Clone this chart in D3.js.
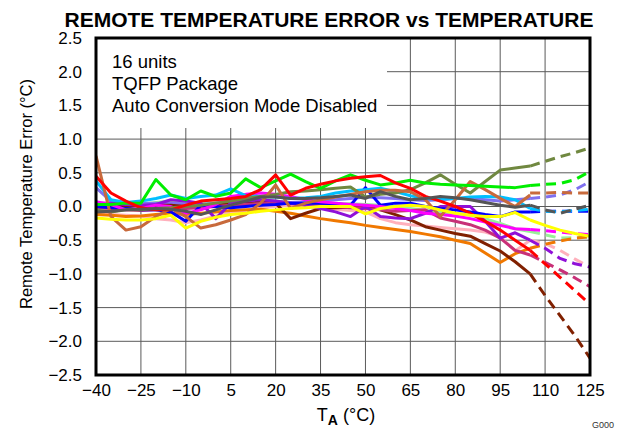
<!DOCTYPE html>
<html><head><meta charset="utf-8">
<script src="https://cdn.jsdelivr.net/npm/d3@7"></script>
<style>body{margin:0;background:#fff}svg{display:block;font-family:"Liberation Sans",Arial,sans-serif}</style>
</head><body><svg id="c" width="618" height="432"></svg>
<script>
// Measured temperatures (solid) and extrapolated temperatures (dashed)
const temps = [-40,-35,-30,-25,-20,-15,-10,-5,0,5,10,15,20,25,30,35,40,45,50,55,60,65,70,75,80,85,90,95,100,105];
const extTemps = [105,110,115,120,125];
const xTicks = [-40,-25,-10,5,20,35,50,65,80,95,110,125];
const yTicks = [-2.5,-2.0,-1.5,-1.0,-0.5,0,0.5,1.0,1.5,2.0,2.5];
const noteLines = ["16 units","TQFP Package","Auto Conversion Mode Disabled"];

const lightPink = [-0.1,-0.12,-0.13,-0.14,-0.18,-0.2,-0.24,-0.2,-0.14,-0.1,-0.06,-0.02,0.0,0.02,0.0,-0.02,-0.04,-0.06,-0.08,-0.18,-0.24,-0.27,-0.29,-0.31,-0.33,-0.35,-0.38,-0.45,-0.66,-0.5];
const lightPinkExt = [-0.5,-0.55,-0.65,-0.78,-0.9];
const lightGreen = [0.05,0.03,0.02,0.03,0.06,0.08,0.05,0.05,0.06,0.08,0.1,0.1,0.08,0.06,0.05,0.05,0.04,0.04,0.03,0.02,0.0,-0.03,-0.06,-0.08,-0.1,-0.13,-0.18,-0.25,-0.33,-0.37];
const lightGreenExt = [-0.37,-0.42,-0.47,-0.46,-0.45];
const slateBlue = [0.28,0.08,0.05,0.05,0.05,0.05,0.04,0.03,0.05,0.07,0.08,0.08,0.07,0.06,0.07,0.08,0.1,0.12,0.14,0.13,0.12,0.1,0.09,0.1,0.12,0.12,0.1,0.08,0.1,0.12];
const slateBlueExt = [0.12,0.14,0.17,0.25,0.37];
const orange = [-0.12,-0.13,-0.15,-0.14,-0.12,-0.1,-0.12,-0.1,-0.08,-0.06,-0.05,-0.04,-0.07,-0.1,-0.14,-0.18,-0.21,-0.24,-0.28,-0.31,-0.34,-0.37,-0.41,-0.45,-0.5,-0.55,-0.69,-0.83,-0.7,-0.62];
const orangeExt = [-0.62,-0.56,-0.51,-0.47,-0.45];
const darkBrown = [0.02,0.0,0.0,0.01,0.02,0.02,0.0,0.0,0.02,0.04,0.07,0.08,0.05,-0.18,-0.1,-0.03,-0.02,-0.01,0.0,-0.05,-0.12,-0.2,-0.3,-0.35,-0.4,-0.44,-0.55,-0.66,-0.82,-1.0];
const darkBrownExt = [-1.0,-1.32,-1.62,-1.92,-2.25];
const violetRed = [-0.02,-0.03,-0.05,-0.06,-0.05,-0.04,-0.03,-0.02,0.0,0.02,0.03,0.04,0.05,0.04,0.03,0.02,0.0,-0.02,-0.03,-0.05,-0.07,-0.06,-0.05,-0.17,-0.22,-0.27,-0.35,-0.47,-0.65,-0.72];
const violetRedExt = [-0.72,-0.83,-0.94,-1.06,-1.19];
const violet = [0.05,0.05,0.03,0.02,0.03,0.1,0.08,0.05,-0.18,0.05,0.08,0.1,0.08,0.05,0.02,-0.03,-0.08,-0.15,0.0,-0.15,-0.17,-0.18,-0.1,0.0,0.0,0.0,-0.22,-0.47,-0.39,-0.5];
const violetExt = [-0.5,-0.62,-0.77,-0.85,-0.9];
const blue = [0.0,-0.02,-0.03,-0.05,-0.05,-0.08,-0.22,0.02,0.0,-0.02,0.0,0.02,0.03,0.05,0.05,0.05,0.04,0.02,0.28,0.02,0.05,0.05,0.0,-0.03,-0.05,-0.08,-0.12,-0.15,-0.08,-0.08];
const blueExt = [-0.08,-0.07,-0.07,-0.07,-0.07];
const magenta = [0.07,0.03,-0.05,-0.03,0.02,0.0,-0.1,-0.05,0.03,0.15,0.18,0.2,0.18,0.15,0.1,0.07,0.05,0.03,0.02,0.0,-0.03,-0.06,-0.1,-0.12,-0.14,-0.18,-0.23,-0.28,-0.33,-0.34];
const magentaExt = [-0.34,-0.36,-0.38,-0.4,-0.42];
const skyBlue = [0.38,0.1,0.06,0.08,0.12,0.17,0.12,0.15,0.17,0.26,0.16,0.15,0.14,0.12,0.13,0.15,0.2,0.23,0.25,0.27,0.22,0.16,0.12,0.11,0.12,0.14,0.15,0.14,0.1,-0.03];
const skyBlueExt = [-0.03,-0.07,-0.08,-0.06,-0.04];
const olive = [-0.05,-0.08,-0.05,-0.05,-0.03,-0.02,0.0,0.02,0.05,0.08,0.12,0.15,0.18,0.22,0.23,0.25,0.27,0.29,0.14,0.18,0.2,0.25,0.35,0.47,0.33,0.2,0.37,0.54,0.57,0.6];
const oliveExt = [0.6,0.67,0.74,0.8,0.87];
const chocolate = [0.75,-0.15,-0.35,-0.3,-0.15,-0.03,-0.15,-0.32,-0.27,-0.2,-0.12,0.05,0.32,-0.03,0.05,0.1,0.14,0.18,0.22,0.24,0.24,0.22,0.1,-0.15,0.1,0.37,0.25,0.12,0.0,0.17];
const chocolateExt = [0.2,0.2,0.21,0.2,0.2];
const lime = [0.03,0.03,0.05,0.05,0.4,0.17,0.1,0.23,0.15,0.2,0.41,0.28,0.38,0.48,0.37,0.27,0.38,0.47,0.39,0.32,0.35,0.39,0.35,0.33,0.32,0.31,0.3,0.29,0.28,0.31];
const limeExt = [0.31,0.33,0.34,0.4,0.52];
const red = [0.45,0.2,0.08,-0.02,-0.05,-0.05,0.02,0.08,0.1,0.12,0.15,0.25,0.47,0.17,0.27,0.33,0.38,0.42,0.44,0.46,0.35,0.27,0.15,0.08,0.0,-0.1,-0.22,-0.35,-0.5,-0.65];
const redExt = [-0.65,-0.85,-1.05,-1.25,-1.45];
const yellow = [-0.17,-0.19,-0.2,-0.2,-0.18,-0.13,-0.32,-0.22,-0.16,-0.12,-0.1,-0.07,-0.05,-0.03,-0.02,0.0,0.0,0.0,-0.11,-0.03,0.0,0.02,0.0,-0.05,-0.1,-0.13,-0.15,-0.15,-0.09,-0.2];
const yellowExt = [-0.2,-0.28,-0.35,-0.4,-0.44];
const gray = [-0.08,-0.07,-0.05,-0.04,-0.03,-0.04,-0.07,-0.12,-0.05,0.02,0.08,0.14,0.14,0.12,0.12,0.13,0.15,0.17,0.12,0.22,0.15,0.1,0.12,0.15,0.13,0.1,0.06,0.02,-0.01,0.02];
const grayExt = [0.02,-0.05,-0.1,-0.04,0.02];

// Series in drawing order (data) and their styles
const seriesData = [
  [lightPink, lightPinkExt],[lightGreen, lightGreenExt],[slateBlue, slateBlueExt],[orange, orangeExt],
  [darkBrown, darkBrownExt],[violetRed, violetRedExt],[violet, violetExt],[blue, blueExt],
  [magenta, magentaExt],[skyBlue, skyBlueExt],[olive, oliveExt],[chocolate, chocolateExt],
  [lime, limeExt],[red, redExt],[yellow, yellowExt],[gray, grayExt]
];
const seriesColors = ["#ffb0bc","#98f098","#8070f0","#f07800","#802000","#c83078","#9010d8","#0000ff",
  "#ff00ff","#00bfff","#708840","#c86a3c","#00ee00","#ff0000","#ffff00","#555555"];
const extSolid = [false,false,false,false,false,false,false,false,false,false,false,false,false,false,true,false];

const svg = d3.select("#c");
const L=96,R=590,T=38,B=375;
const x = d3.scaleLinear().domain([-40,125]).range([L,R]);
const y = d3.scaleLinear().domain([-2.5,2.5]).range([B,T]);

// grid
const grid = svg.append("g").attr("stroke","#5a5a5a").attr("stroke-width",1);
xTicks.slice(1,-1).forEach(t=>{
  grid.append("line").attr("x1",x(t)).attr("x2",x(t)).attr("y1",T).attr("y2",B);
});
yTicks.slice(1,-1).forEach(t=>{
  grid.append("line").attr("x1",L).attr("x2",R).attr("y1",y(t)).attr("y2",y(t));
});
// white box behind note text
svg.append("rect").attr("x",L).attr("y",T).attr("width",291).attr("height",90).attr("fill","#fff");

// lines
svg.append("clipPath").attr("id","pc").append("rect").attr("x",L).attr("y",T).attr("width",R-L).attr("height",B-T);
const gl = svg.append("g").attr("clip-path","url(#pc)");
const line = d3.line().x(d=>x(d[0])).y(d=>y(d[1]));
seriesData.forEach((s,i)=>{
  const solid = temps.map((t,j)=>[t,s[0][j]]);
  const ext = extTemps.map((t,j)=>[t,s[1][j]]);
  gl.append("path").attr("d",line(ext)).attr("fill","none").attr("stroke",seriesColors[i])
    .attr("stroke-width",3).attr("stroke-dasharray",extSolid[i]?null:"10,6").attr("stroke-linejoin","round");
  gl.append("path").attr("d",line(solid)).attr("fill","none").attr("stroke",seriesColors[i])
    .attr("stroke-width",3).attr("stroke-linejoin","round");
});

// frame
svg.append("rect").attr("x",L).attr("y",T).attr("width",R-L).attr("height",B-T)
  .attr("fill","none").attr("stroke","#000").attr("stroke-width",3);

// axes labels via d3 axes (no domain/ticks lines)
const fmt = d3.format(".1f");
const ya = svg.append("g").attr("transform",`translate(${L-2},0)`)
  .call(d3.axisLeft(y).tickValues(yTicks).tickFormat(fmt).tickSize(0).tickPadding(12));
ya.select(".domain").remove();
ya.selectAll("text").attr("font-size",17).attr("font-family","Liberation Sans, Arial, sans-serif").attr("fill","#000");
const xa = svg.append("g").attr("transform",`translate(0,${B+2})`)
  .call(d3.axisBottom(x).tickValues(xTicks).tickFormat(d3.format("d")).tickSize(0).tickPadding(7));
xa.select(".domain").remove();
xa.selectAll("text").attr("font-size",17).attr("font-family","Liberation Sans, Arial, sans-serif").attr("fill","#000");

// note text
noteLines.forEach((s,i)=>{
  svg.append("text").attr("x",112).attr("y",68+i*22).attr("font-size",18.5).text(s);
});

// title
svg.append("text").attr("x",329).attr("y",27).attr("text-anchor","middle")
  .attr("font-size",21).attr("font-weight","bold").text("REMOTE TEMPERATURE ERROR vs TEMPERATURE");

// axis titles
svg.append("text").attr("transform","rotate(-90)").attr("x",-194).attr("y",32)
  .attr("text-anchor","middle").attr("font-size",16.5).text("Remote Temperature Error (°C)");
const xt = svg.append("text").attr("x",346).attr("y",421).attr("text-anchor","middle").attr("font-size",18);
xt.append("tspan").text("T");
xt.append("tspan").attr("dy",4).attr("font-weight","bold").attr("font-size",14).text("A");
xt.append("tspan").attr("dy",-4).text(" (°C)");

svg.append("text").attr("x",614).attr("y",428).attr("text-anchor","end").attr("font-size",9).attr("fill","#333").text("G000");
</script></body></html>
